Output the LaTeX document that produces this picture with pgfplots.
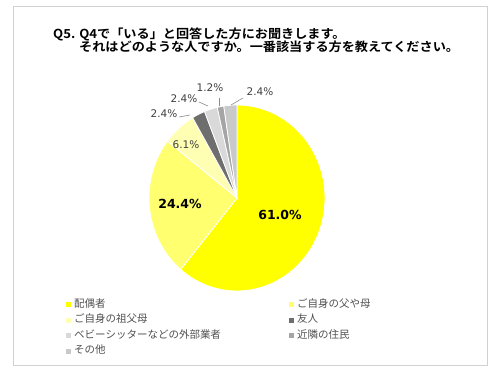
\documentclass[border=0pt]{standalone}
\usepackage{pgfplots}
\pgfplotsset{compat=1.18}
\usepackage{pgfplotstable}
\usepackage{fontspec}
\setmainfont{DejaVu Sans}
\newfontfamily\jp{Noto Sans CJK JP}
\newfontfamily\jpb{Noto Sans CJK JP Bold}
\definecolor{c0}{HTML}{FFFF00}
\definecolor{c1}{HTML}{FFFF70}
\definecolor{c2}{HTML}{FFFFB4}
\definecolor{c3}{HTML}{6E6E6E}
\definecolor{c4}{HTML}{D9D9D9}
\definecolor{c5}{HTML}{A5A5A5}
\definecolor{c6}{HTML}{C9C9C9}
\definecolor{txt}{HTML}{404040}
\definecolor{leg}{HTML}{505050}
\pgfplotstableread{
share
61.0
24.4
6.1
2.4
2.4
1.2
2.4
}\piedata
\begin{document}
\begin{tikzpicture}[x=1pt,y=1pt]
\path[use as bounding box] (0,0) rectangle (500,371);
\draw[color=black!18, line width=0.8pt] (13,6) rectangle (487,365);
% title
\node[anchor=west, inner sep=0pt] at (53,337) {\jpb\fontsize{12.4}{12.4}\selectfont\scalebox{1.06}[1]{Q5. Q4で「いる」と回答した方にお聞きします。}};
\node[anchor=west, inner sep=0pt] at (79,324.5) {\jpb\fontsize{12.4}{12.4}\selectfont\scalebox{1.06}[1]{それはどのような人ですか。一番該当する方を教えてください。}};
\begin{axis}[
  at={(237pt,173pt)}, anchor=center,
  scale only axis, width=176pt, height=186pt,
  xmin=-1, xmax=1, ymin=-1, ymax=1,
  hide axis, clip=false]
\pgfmathsetmacro\cum{0}
\pgfplotsforeachungrouped \i in {0,...,6}{%
  \pgfplotstablegetelem{\i}{share}\of\piedata
  \pgfmathsetmacro\a{\cum*3.6036}
  \pgfmathsetmacro\cum{\cum+\pgfplotsretval}
  \pgfmathsetmacro\b{\cum*3.6036}
  \edef\doit{\noexpand\addplot[fill=c\i, draw=white, line width=0.8pt, domain=\a:\b, samples=60, variable=\noexpand\t] ({sin(\noexpand\t)},{cos(\noexpand\t)}) -- (axis cs:0,0) -- cycle;}%
  \doit
}
\end{axis}
% data labels
\node[text=black, font=\bfseries\fontsize{12.5}{12.5}\selectfont] at (280,156) {61.0\%};
\node[text=black, font=\bfseries\fontsize{12.5}{12.5}\selectfont] at (180,167) {24.4\%};
\node[text=txt, font=\fontsize{10.5}{10.5}\selectfont] at (186,226) {6.1\%};
\node[text=txt, font=\fontsize{10.5}{10.5}\selectfont] at (164,257) {2.4\%};
\node[text=txt, font=\fontsize{10.5}{10.5}\selectfont] at (184,272) {2.4\%};
\node[text=txt, font=\fontsize{10.5}{10.5}\selectfont] at (210,283) {1.2\%};
\node[text=txt, font=\fontsize{10.5}{10.5}\selectfont] at (260,279) {2.4\%};
\draw[black!45, line width=0.6pt] (179,254) -- (190,256);
\draw[black!45, line width=0.6pt] (199,269) -- (208,265);
\draw[black!45, line width=0.6pt] (219,273) -- (219,265);
\draw[black!45, line width=0.6pt] (243,273) -- (231,266);
% legend
\def\legitem#1#2#3#4{%
  \fill[#3] (#1-2.5,#2-2.5) rectangle (#1+2.5,#2+2.5);
  \node[anchor=west, inner sep=0pt, text=leg] at (#1+6,#2+1.5) {\jp\fontsize{10.5}{10.5}\selectfont #4};}
\legitem{68}{66}{c0}{配偶者}
\legitem{291}{66}{c1}{ご自身の父や母}
\legitem{68}{50.5}{c2}{ご自身の祖父母}
\legitem{291}{50.5}{c3}{友人}
\legitem{68}{35}{c4}{ベビーシッターなどの外部業者}
\legitem{291}{35}{c5}{近隣の住民}
\legitem{68}{19.5}{c6}{その他}
\end{tikzpicture}
\end{document}
